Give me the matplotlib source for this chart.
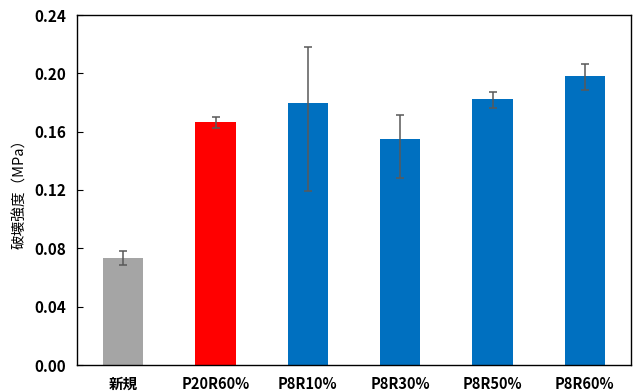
import matplotlib
matplotlib.use('Agg')
import matplotlib.pyplot as plt
import numpy as np

plt.rcParams['font.family'] = ['Noto Sans CJK JP', 'DejaVu Sans']

labels = ['新規', 'P20R60%', 'P8R10%', 'P8R30%', 'P8R50%', 'P8R60%']
strength = [0.0735, 0.1665, 0.1795, 0.155, 0.1827, 0.1985]
err_low = [0.0050, 0.0038, 0.0600, 0.0270, 0.0067, 0.0097]
err_high = [0.0050, 0.0038, 0.0385, 0.0165, 0.0045, 0.0082]
colors = ['#A5A5A5', '#FF0000', '#0070C0', '#0070C0', '#0070C0', '#0070C0']
yticks = [0.00, 0.04, 0.08, 0.12, 0.16, 0.20, 0.24]

fig = plt.figure(figsize=(6.39, 3.92), dpi=100)
ax = fig.add_axes([77 / 639, 1 - 365 / 392, (631 - 77) / 639, (365 - 15) / 392])

x = np.arange(len(labels))
ax.bar(x, strength, width=0.44, color=colors, zorder=2)
ax.errorbar(x, strength, yerr=[err_low, err_high], fmt='none',
            ecolor='#595959', elinewidth=1.1, capsize=3, capthick=1.1, zorder=3)

ax.set_xlim(-0.5, len(labels) - 0.5)
ax.set_ylim(0, 0.24)
ax.set_yticks(yticks)
ax.set_yticklabels(['%.2f' % t for t in yticks], fontsize=11, fontweight='bold')
ax.set_xticks(x)
ax.set_xticklabels(labels, fontsize=10.5, fontweight='bold')
ax.tick_params(axis='y', direction='in', length=4, pad=8)
ax.tick_params(axis='x', length=0, pad=8)
for s in ax.spines.values():
    s.set_color('black')
    s.set_linewidth(1.0)

ax.set_ylabel('破壊強度（MPa）', fontsize=10.5, labelpad=5)

fig.savefig('out.png', dpi=100)
